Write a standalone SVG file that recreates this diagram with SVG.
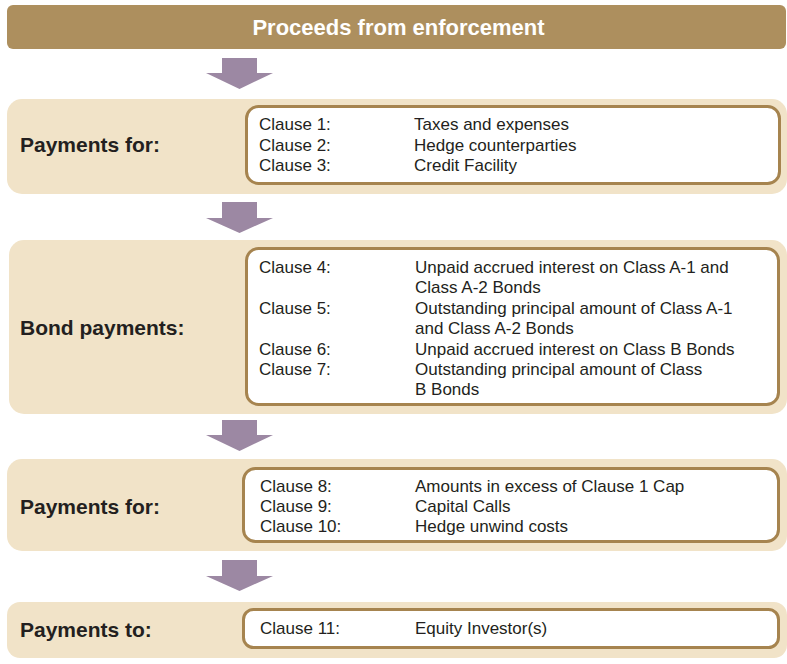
<svg xmlns="http://www.w3.org/2000/svg" width="787" height="664" viewBox="0 0 787 664">
<style>
.bg{fill:#F1E3C8}
.box{fill:#FFFFFF;stroke:#A6844F;stroke-width:3}
.arr{fill:#9C88A3}
.t{font-family:"Liberation Sans",Arial,sans-serif;font-size:17px;fill:#231F20}
.h{font-family:"Liberation Sans",Arial,sans-serif;font-size:21px;font-weight:bold;fill:#231F20}
.ttl{font-family:"Liberation Sans",Arial,sans-serif;font-size:22px;font-weight:bold;fill:#FFFFFF}
</style>
<rect width="787" height="664" fill="#FFFFFF"/>
<g id="title">
<rect x="7" y="5" width="779" height="44" rx="6" fill="#AD8F5E"/>
<text class="ttl" x="398.5" y="35" text-anchor="middle">Proceeds from enforcement</text>
</g>
<g id="connectors">
<polygon class="arr" points="222,58 257,58 257,73 273,73 239.5,89 206,73 222,73"/>
<polygon class="arr" points="222,202 257,202 257,218 273,218 239.5,233 206,218 222,218"/>
<polygon class="arr" points="222,420 257,420 257,435 273,435 239.5,451 206,435 222,435"/>
<polygon class="arr" points="222,560 257,560 257,576 273,576 239.5,591 206,576 222,576"/>
</g>
<g id="section1">
<rect class="bg" x="7" y="99" width="780" height="95" rx="15"/>
<text class="h" x="20" y="152">Payments for:</text>
<rect class="box" x="246.5" y="106.5" width="533" height="77" rx="12"/>
<text class="t" x="259" y="130">Clause 1:</text>
<text class="t" x="259" y="150.5">Clause 2:</text>
<text class="t" x="259" y="171">Clause 3:</text>
<text class="t" x="414" y="130">Taxes and expenses</text>
<text class="t" x="414" y="150.5">Hedge counterparties</text>
<text class="t" x="414" y="171">Credit Facility</text>
</g>
<g id="section2">
<rect class="bg" x="9" y="240" width="778" height="174" rx="15"/>
<text class="h" x="20" y="335">Bond payments:</text>
<rect class="box" x="246.5" y="248.5" width="532" height="156" rx="12"/>
<text class="t" x="259" y="273">Clause 4:</text>
<text class="t" x="259" y="314">Clause 5:</text>
<text class="t" x="259" y="355">Clause 6:</text>
<text class="t" x="259" y="375">Clause 7:</text>
<text class="t" x="415" y="273">Unpaid accrued interest on Class A-1 and</text>
<text class="t" x="415" y="293">Class A-2 Bonds</text>
<text class="t" x="415" y="314">Outstanding principal amount of Class A-1</text>
<text class="t" x="415" y="334">and Class A-2 Bonds</text>
<text class="t" x="415" y="355">Unpaid accrued interest on Class B Bonds</text>
<text class="t" x="415" y="375">Outstanding principal amount of Class</text>
<text class="t" x="415" y="395">B Bonds</text>
</g>
<g id="section3">
<rect class="bg" x="7" y="459" width="780" height="92" rx="15"/>
<text class="h" x="20" y="514">Payments for:</text>
<rect class="box" x="243.5" y="468.5" width="535" height="73" rx="12"/>
<text class="t" x="260" y="492">Clause 8:</text>
<text class="t" x="260" y="512">Clause 9:</text>
<text class="t" x="260" y="532">Clause 10:</text>
<text class="t" x="415" y="492">Amounts in excess of Clause 1 Cap</text>
<text class="t" x="415" y="512">Capital Calls</text>
<text class="t" x="415" y="532">Hedge unwind costs</text>
</g>
<g id="section4">
<rect class="bg" x="7" y="602" width="780" height="56" rx="13"/>
<text class="h" x="20" y="637">Payments to:</text>
<rect class="box" x="243.5" y="609.5" width="535" height="38" rx="10"/>
<text class="t" x="260" y="634">Clause 11:</text>
<text class="t" x="415" y="634">Equity Investor(s)</text>
</g>
</svg>
